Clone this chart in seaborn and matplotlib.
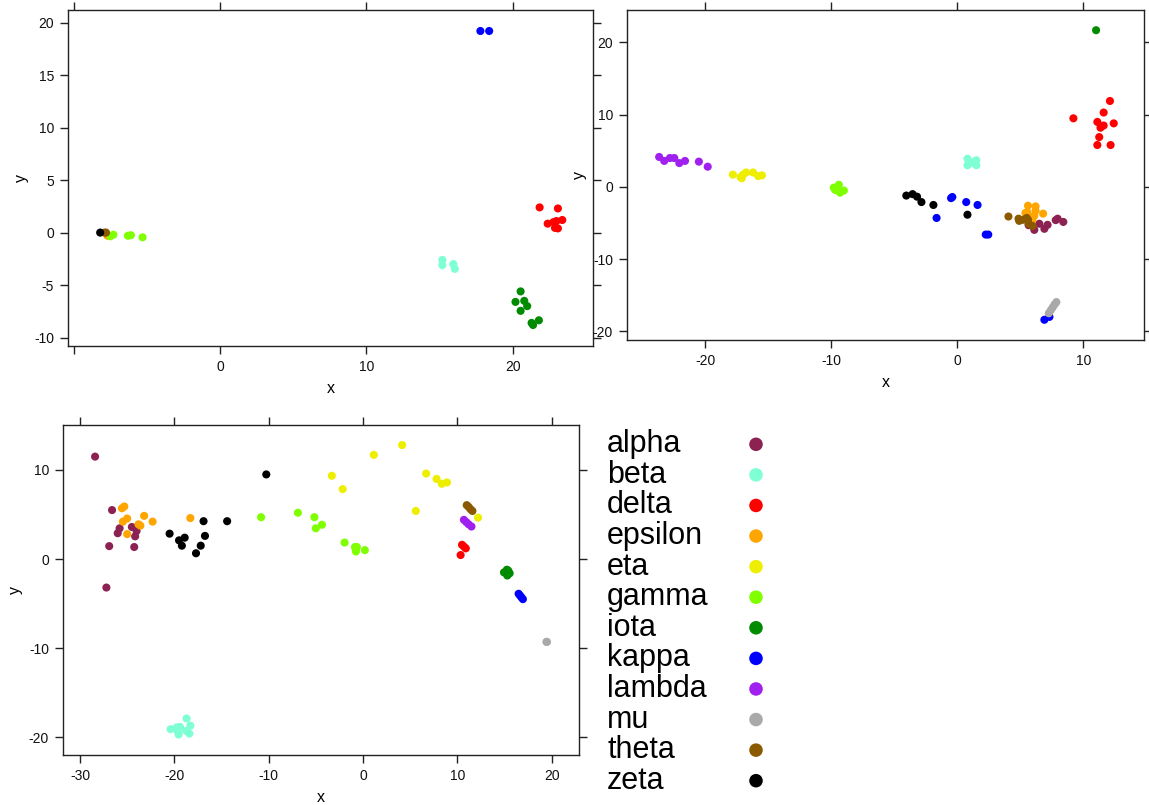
import numpy as np
import pandas as pd
import matplotlib
matplotlib.use("Agg")
import matplotlib.pyplot as plt
import seaborn as sns

sns.set_style("white")
plt.rcParams['font.family'] = ['Liberation Sans', 'DejaVu Sans']
plt.rcParams['text.color'] = 'black'
plt.rcParams['axes.labelcolor'] = 'black'

groups = ["alpha", "beta", "delta", "epsilon", "eta", "gamma", "iota",
          "kappa", "lambda", "mu", "theta", "zeta"]
colors = ["#8B2252", "#7FFFD4", "#FF0000", "#FFA500", "#EEEE00", "#7FFF00",
          "#008B00", "#0000FF", "#A020F0", "#A9A9A9", "#8B5A00", "#000000"]

# ---- panel 1 (top left) ----
p1_zeta_x = [-8.2]; p1_zeta_y = [0.0]
p1_theta_x = [-7.8, -7.9]; p1_theta_y = [0.0, 0.0]
p1_epsilon_x = [-7.7]; p1_epsilon_y = [-0.3]
p1_gamma_x = [-7.5, -7.3, -6.3, -6.1, -5.3]
p1_gamma_y = [-0.35, -0.2, -0.3, -0.25, -0.45]
p1_kappa_x = [17.8, 18.4]; p1_kappa_y = [19.2, 19.2]
p1_delta_x = [21.85, 23.1, 22.4, 22.8, 23.0, 23.4, 22.9, 23.1]
p1_delta_y = [2.4, 2.3, 0.85, 1.0, 1.1, 1.2, 0.45, 0.4]
p1_beta_x = [15.2, 15.2, 15.95, 16.05]
p1_beta_y = [-2.6, -3.1, -3.0, -3.45]
p1_iota_x = [20.55, 20.2, 20.8, 21.0, 20.55, 21.3, 21.4, 21.8]
p1_iota_y = [-5.6, -6.6, -6.5, -7.0, -7.45, -8.6, -8.8, -8.35]

# ---- panel 2 (top right) ----
p2_lambda_x = [-23.65, -23.25, -22.8, -22.45, -22.05, -21.6, -20.5, -19.8]
p2_lambda_y = [4.15, 3.6, 4.0, 4.0, 3.3, 3.6, 3.5, 2.8]
p2_eta_x = [-17.8, -17.2, -17.1, -17.0, -16.75, -16.2, -15.8, -15.5]
p2_eta_y = [1.7, 1.35, 1.2, 1.7, 2.0, 2.0, 1.5, 1.6]
p2_gamma_x = [-9.8, -9.4, -9.5, -9.3, -9.0, -9.7]
p2_gamma_y = [-0.1, 0.3, -0.5, -0.8, -0.5, -0.4]
p2_iota_x = [11.0]; p2_iota_y = [21.7]
p2_delta_x = [12.1, 11.6, 9.2, 11.1, 12.4, 11.6, 11.35, 11.25, 11.1, 12.15]
p2_delta_y = [11.9, 10.3, 9.5, 9.0, 8.8, 8.5, 8.2, 6.9, 5.8, 5.8]
p2_beta_x = [0.8, 1.5, 0.8, 1.5, 1.2]
p2_beta_y = [3.9, 3.7, 3.0, 3.0, 3.4]
p2_zeta_x = [-4.05, -3.55, -3.2, -2.85, -1.9, 0.8]
p2_zeta_y = [-1.2, -1.0, -1.35, -2.1, -2.5, -3.85]
p2_kappa_x = [-0.5, -0.4, -1.65, 0.7, 1.6, 2.25, 2.45, 6.9, 7.3]
p2_kappa_y = [-1.55, -1.4, -4.3, -2.1, -2.5, -6.6, -6.6, -18.4, -18.0]
p2_mu_x = [7.25, 7.4, 7.55, 7.7, 7.85]
p2_mu_y = [-17.5, -17.1, -16.7, -16.3, -15.95]
p2_epsilon_x = [5.6, 6.2, 5.55, 6.2, 5.4, 6.8, 6.1, 5.95, 5.75]
p2_epsilon_y = [-2.6, -2.7, -3.5, -3.3, -3.6, -3.7, -4.0, -4.6, -4.1]
p2_theta_x = [4.05, 4.85, 4.9, 5.2, 5.5, 5.6, 5.95, 5.65]
p2_theta_y = [-4.1, -4.4, -4.7, -4.55, -4.3, -4.55, -5.4, -5.1]
p2_alpha_x = [6.5, 6.9, 6.1, 7.15, 7.8, 7.95, 8.4, 5.65]
p2_alpha_y = [-5.1, -5.8, -5.95, -5.25, -4.6, -4.4, -4.85, -5.3]

# ---- panel 3 (bottom left) ----
p3_alpha_x = [-28.4, -26.6, -25.8, -26.0, -26.9, -27.2, -24.5, -24.0, -24.15, -24.25]
p3_alpha_y = [11.5, 5.5, 3.45, 2.9, 1.45, -3.2, 3.6, 3.15, 2.55, 1.35]
p3_epsilon_x = [-25.55, -25.3, -25.45, -25.0, -25.0, -23.8, -23.6, -23.2, -22.3, -18.3]
p3_epsilon_y = [5.7, 5.9, 4.2, 4.55, 2.8, 3.9, 3.75, 4.85, 4.2, 4.6]
p3_zeta_x = [-20.5, -19.5, -19.2, -18.9, -17.7, -17.2, -16.75, -16.9, -14.4, -10.25]
p3_zeta_y = [2.85, 2.1, 1.5, 2.4, 0.65, 1.5, 2.6, 4.25, 4.25, 9.5]
p3_beta_x = [-20.4, -19.75, -19.4, -19.55, -18.7, -18.3, -18.75, -18.4, -19.65]
p3_beta_y = [-19.1, -18.9, -18.85, -19.7, -17.9, -18.7, -19.3, -19.6, -19.3]
p3_gamma_x = [-10.8, -6.9, -5.15, -5.0, -4.35, -1.95, -0.85, -0.65, -0.75, 0.2]
p3_gamma_y = [4.7, 5.2, 4.7, 3.45, 3.85, 1.85, 1.35, 1.35, 0.85, 1.0]
p3_eta_x = [4.15, 1.15, -3.3, -2.15, 6.7, 7.8, 8.35, 8.9, 5.6, 12.2]
p3_eta_y = [12.8, 11.7, 9.35, 7.85, 9.6, 9.0, 8.45, 8.6, 5.4, 4.65]
p3_theta_x = [11.0, 11.2, 11.4, 11.6]
p3_theta_y = [6.05, 5.85, 5.6, 5.4]
p3_lambda_x = [10.7, 10.95, 11.2, 11.5]
p3_lambda_y = [4.4, 4.15, 3.9, 3.65]
p3_delta_x = [10.5, 10.7, 10.9, 10.35]
p3_delta_y = [1.6, 1.4, 1.2, 0.45]
p3_iota_x = [14.95, 15.4, 15.3, 15.25, 15.55]
p3_iota_y = [-1.5, -1.3, -1.85, -1.2, -1.6]
p3_kappa_x = [16.5, 16.65, 16.8, 16.95]
p3_kappa_y = [-3.9, -4.1, -4.3, -4.5]
p3_mu_x = [19.45, 19.5]
p3_mu_y = [-9.3, -9.3]

g = globals()


def frame(prefix):
    rows = []
    for name in groups:
        kx, ky = f"{prefix}_{name}_x", f"{prefix}_{name}_y"
        if kx in g:
            for xv, yv in zip(g[kx], g[ky]):
                rows.append((xv, yv, name))
    return pd.DataFrame(rows, columns=["x", "y", "group"])


palette = dict(zip(groups, colors))

fig = plt.figure(figsize=(11.49, 8.05), dpi=100)
W, H = 1149, 805


def make_ax(l, t, r, b):
    return fig.add_axes([l / W, 1 - b / H, (r - l) / W, (b - t) / H])


ax1 = make_ax(68, 10, 593, 346)
ax2 = make_ax(627, 10, 1144, 340)
ax3 = make_ax(63, 425, 579, 755)

specs = [
    (ax1, "p1", (-10.4, 25.5), (-10.8, 21.2), [-10, 0, 10, 20], ["", "0", "10", "20"],
     [-10, -5, 0, 5, 10, 15, 20]),
    (ax2, "p2", (-26.2, 14.8), (-21.2, 24.5), [-20, -10, 0, 10], ["-20", "-10", "0", "10"],
     [-20, -10, 0, 10, 20]),
    (ax3, "p3", (-31.8, 22.9), (-22.0, 15.05), [-30, -20, -10, 0, 10, 20],
     ["-30", "-20", "-10", "0", "10", "20"], [-20, -10, 0, 10]),
]

for ax, pre, xl, yl, xt, xtl, yt in specs:
    df = frame(pre)
    sns.scatterplot(data=df, x="x", y="y", hue="group", palette=palette,
                    hue_order=[gname for gname in groups if gname in set(df.group)],
                    s=34, linewidth=0, ax=ax, legend=False)
    ax.set_xlim(*xl)
    ax.set_ylim(*yl)
    ax.set_xticks(xt)
    ax.set_xticklabels(xtl)
    ax.set_yticks(yt)
    ax.set_yticklabels([str(v) for v in yt])
    ax.tick_params(axis="both", which="both", direction="out", length=6, width=1,
                   color="#222222", labelsize=10, labelcolor="#111111",
                   top=True, right=True, bottom=True, left=True,
                   labeltop=False, labelright=False, pad=4)
    for sp in ax.spines.values():
        sp.set_visible(True)
        sp.set_color("#222222")
        sp.set_linewidth(1.0)
    ax.set_xlabel("x", fontsize=11.5, labelpad=5)
    ax.set_ylabel("y", fontsize=11.5, labelpad=4)

# ---- key panel ----
axk = make_ax(600, 429, 800, 796)
key = pd.DataFrame({"pos": np.arange(len(groups)), "group": groups,
                    "dot": np.full(len(groups), 0.78)})
sns.scatterplot(data=key, x="dot", y="pos", hue="group", palette=palette,
                hue_order=groups, s=95, linewidth=0, ax=axk, legend=False)
for p, name in zip(key["pos"], key["group"]):
    axk.text(0.035, p, name, fontsize=22, ha="left", va="center", color="black")
axk.set_xlim(0, 1)
axk.set_ylim(len(groups) - 0.5, -0.5)
axk.axis("off")

fig.savefig("out.png", dpi=100)
